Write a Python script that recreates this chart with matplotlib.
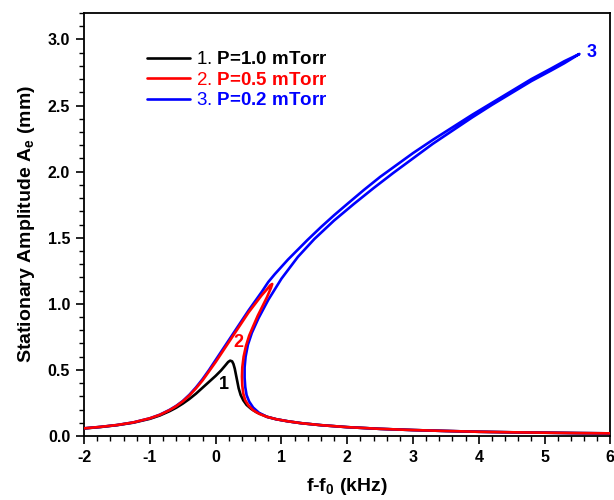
import matplotlib
matplotlib.use("Agg")
import matplotlib.pyplot as plt
from matplotlib.ticker import MultipleLocator, FormatStrFormatter

plt.rcParams["font.family"] = ["Liberation Sans", "DejaVu Sans"]
plt.rcParams["font.weight"] = "bold"
plt.rcParams["axes.unicode_minus"] = False
plt.rcParams["mathtext.fontset"] = "custom"
plt.rcParams["mathtext.rm"] = "Liberation Sans:bold"
plt.rcParams["mathtext.bf"] = "Liberation Sans:bold"
plt.rcParams["mathtext.it"] = "Liberation Sans:bold"
plt.rcParams["mathtext.default"] = "bf"

# resonance curves, traced from the low-frequency side over the fold and back out
# shared high-frequency tail of all three curves
tail_freq = [0.78, 0.92, 1.1, 1.3, 1.6, 2.0, 2.5, 3.0, 3.5, 4.0, 4.5, 5.0, 5.5, 6.0]
tail_amp = [0.145, 0.127, 0.111, 0.097, 0.082, 0.067, 0.054, 0.045, 0.038, 0.032,
            0.028, 0.025, 0.022, 0.020]

# 1. P=1.0 mTorr
freq_1 = [-2.0, -1.75, -1.5, -1.25, -1.0, -0.85, -0.7, -0.6, -0.5, -0.4, -0.3, -0.2,
          -0.1, 0.0, 0.08, 0.14, 0.19, 0.22, 0.25, 0.27, 0.29, 0.31, 0.33, 0.35,
          0.38, 0.42, 0.47, 0.54, 0.62]
amp_1 = [0.057, 0.068, 0.082, 0.101, 0.13, 0.155, 0.188, 0.214, 0.245, 0.28, 0.32, 0.365,
         0.41, 0.455, 0.495, 0.53, 0.56, 0.57, 0.565, 0.545, 0.51, 0.46, 0.41, 0.36,
         0.31, 0.27, 0.235, 0.205, 0.18]

# 2. P=0.5 mTorr
freq_2 = [-2.0, -1.75, -1.5, -1.25, -1.0, -0.85, -0.7, -0.6, -0.5, -0.4, -0.3, -0.2,
          -0.1, 0.0, 0.1, 0.2, 0.3, 0.4, 0.5, 0.6, 0.7, 0.78, 0.83, 0.86,
          0.84, 0.78, 0.71, 0.64, 0.57, 0.51, 0.46, 0.425, 0.405, 0.40, 0.405, 0.42,
          0.45, 0.50, 0.57, 0.66]
amp_2 = [0.058, 0.069, 0.083, 0.103, 0.134, 0.160, 0.196, 0.226, 0.262, 0.307, 0.36, 0.42,
         0.49, 0.56, 0.635, 0.71, 0.785, 0.86, 0.935, 1.00, 1.065, 1.11, 1.14, 1.15,
         1.12, 1.05, 0.98, 0.91, 0.83, 0.76, 0.68, 0.60, 0.52, 0.45, 0.38, 0.32,
         0.27, 0.23, 0.195, 0.168]

# 3. P=0.2 mTorr
freq_3 = [-2.0, -1.75, -1.5, -1.25, -1.0, -0.85, -0.7, -0.6, -0.5, -0.4, -0.3, -0.2,
          -0.1, 0.0, 0.1, 0.2, 0.3, 0.4, 0.5, 0.6, 0.7, 0.8, 0.9, 1.0,
          1.1, 1.25, 1.4, 1.6, 1.8, 2.0, 2.25, 2.5, 2.75, 3.0, 3.3, 3.6,
          3.9, 4.2, 4.5, 4.8, 5.1, 5.3, 5.53,
          5.3, 5.1, 4.8, 4.5, 4.2, 3.9, 3.6, 3.3, 3.0, 2.7, 2.4, 2.1,
          1.8, 1.5, 1.25, 1.0, 0.8, 0.65, 0.55, 0.49, 0.455, 0.44, 0.44, 0.45,
          0.47, 0.51, 0.57, 0.66]
amp_3 = [0.058, 0.069, 0.083, 0.103, 0.134, 0.161, 0.198, 0.228, 0.265, 0.312, 0.367, 0.43,
         0.50, 0.575, 0.65, 0.725, 0.80, 0.875, 0.95, 1.02, 1.09, 1.165, 1.225, 1.28,
         1.335, 1.41, 1.485, 1.58, 1.67, 1.755, 1.86, 1.96, 2.05, 2.14, 2.24, 2.335,
         2.43, 2.52, 2.61, 2.70, 2.78, 2.835, 2.89,
         2.82, 2.765, 2.685, 2.595, 2.505, 2.41, 2.31, 2.21, 2.10, 1.99, 1.875, 1.755,
         1.63, 1.49, 1.355, 1.19, 1.03, 0.89, 0.78, 0.69, 0.60, 0.52, 0.44, 0.37,
         0.31, 0.26, 0.215, 0.175]

pressures = ["1.0", "0.5", "0.2"]
colors = ["black", "red", "blue"]

fig = plt.figure(figsize=(6.14, 5.0), dpi=100)
ax = fig.add_axes([0.137, 0.128, 0.857, 0.846])

lw = 1.9
style = dict(lw=lw, solid_joinstyle="round", solid_capstyle="round")
l1, = ax.plot(freq_1 + tail_freq, amp_1 + tail_amp, color=colors[0], zorder=2, **style)
l3, = ax.plot(freq_3 + tail_freq, amp_3 + tail_amp, color=colors[2], zorder=3, **style)
l2, = ax.plot(freq_2 + tail_freq, amp_2 + tail_amp, color=colors[1], zorder=4, **style)

# number in regular weight, pressure in bold
labels = [r"%d. $\text{P=%s mTorr}$" % (i + 1, p) for i, p in enumerate(pressures)]
leg = ax.legend([l1, l2, l3], labels, loc="upper left", bbox_to_anchor=(0.105, 0.928),
                frameon=False, fontsize=13.5, handlelength=2.3, handletextpad=0.3,
                labelspacing=0.18, borderaxespad=0)
for txt, c in zip(leg.get_texts(), colors):
    txt.set_color(c)
    txt.set_fontweight("normal")

# curve numbers
ax.text(0.12, 0.39, "1", color="black", fontsize=13, fontweight="bold", ha="center", va="center")
ax.text(0.34, 0.71, "2", color="red", fontsize=13, fontweight="bold", ha="center", va="center")
ax.text(5.72, 2.90, "3", color="blue", fontsize=13, fontweight="bold", ha="center", va="center")

ax.set_xlim(-2, 6)
ax.set_ylim(0, 3.2)
ax.xaxis.set_major_locator(MultipleLocator(1))
ax.xaxis.set_minor_locator(MultipleLocator(0.2))
ax.yaxis.set_major_locator(MultipleLocator(0.5))
ax.yaxis.set_minor_locator(MultipleLocator(0.1))
ax.yaxis.set_major_formatter(FormatStrFormatter("%.1f"))

ax.tick_params(which="major", direction="out", length=6, width=1.2, labelsize=11.5, pad=4)
ax.tick_params(which="minor", direction="out", length=3.5, width=1.0)
for side in ax.spines.values():
    side.set_linewidth(1.3)

ax.set_xlabel(r"f-f$_0$ (kHz)", fontsize=14, fontweight="bold", labelpad=8)
ax.set_ylabel(r"Stationary Amplitude A$_e$ (mm)", fontsize=14, fontweight="bold", labelpad=8)

fig.savefig("out.png", dpi=100)
